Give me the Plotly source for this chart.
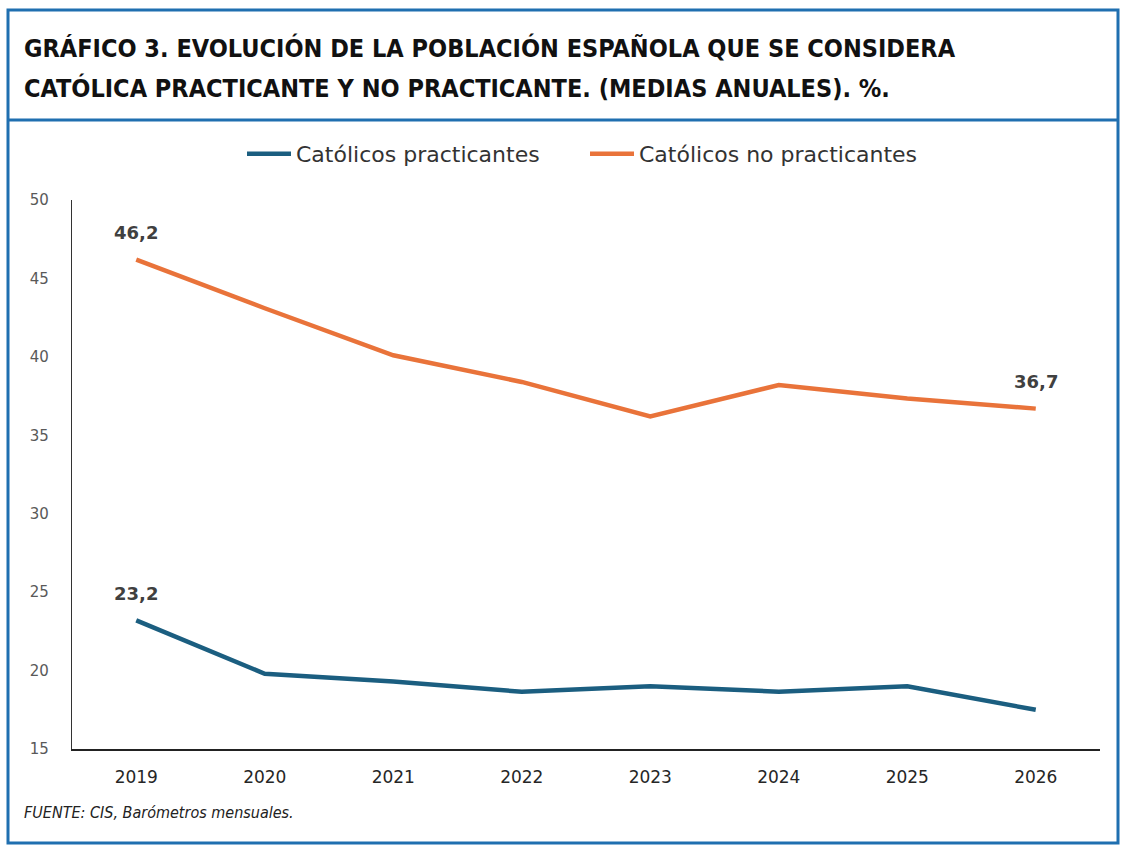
import plotly.graph_objects as go

years = ["2019", "2020", "2021", "2022", "2023", "2024", "2025", "2026"]
practicantes = [23.2, 19.8, 19.3, 18.65, 19.0, 18.65, 19.0, 17.5]
no_practicantes = [46.2, 43.1, 40.1, 38.4, 36.2, 38.2, 37.35, 36.7]
series_names = ["Católicos practicantes", "Católicos no practicantes"]
y_ticks = [15, 20, 25, 30, 35, 40, 45, 50]

title_lines = [
    "GRÁFICO 3. EVOLUCIÓN DE LA POBLACIÓN ESPAÑOLA QUE SE CONSIDERA",
    "CATÓLICA PRACTICANTE Y NO PRACTICANTE. (MEDIAS ANUALES). %.",
]
source_text = "FUENTE: CIS, Barómetros mensuales."

BLUE = "#1B5E80"
ORANGE = "#E9733A"
FRAME = "#1F6FB0"

W, H = 1134, 850
L, R, T, B = 72, 1100, 200, 749

def px(x):
    return (x - L) / (R - L)

def py(y):
    return (B - y) / (B - T)

fig = go.Figure()
fig.add_trace(go.Scatter(x=years, y=practicantes, mode="lines", name=series_names[0],
                         line=dict(color=BLUE, width=4.5)))
fig.add_trace(go.Scatter(x=years, y=no_practicantes, mode="lines", name=series_names[1],
                         line=dict(color=ORANGE, width=4.5)))

def fmt(v):
    return f"{v:.1f}".replace(".", ",")

# (category index, value) of labelled points
labels = [(0, no_practicantes[0]), (len(years) - 1, no_practicantes[-1]), (0, practicantes[0])]
annotations = []
for xi, yv in labels:
    annotations.append(dict(x=xi, y=yv, xref="x", yref="y", text=fmt(yv), showarrow=False,
                            yshift=27, font=dict(family="DejaVu Sans", size=18, color="#404040", weight="bold")))

title_font = dict(family="Liberation Sans Narrow, DejaVu Sans Condensed", size=25, color="#111111", weight="bold")
for i, line in enumerate(title_lines):
    annotations.append(dict(x=px(22), y=py([48, 88][i]), xref="paper", yref="paper", text=line,
                            showarrow=False, xanchor="left", yanchor="middle", font=title_font))
annotations.append(dict(x=px(22), y=py(812), xref="paper", yref="paper", text="<i>" + source_text + "</i>",
                        showarrow=False, xanchor="left", yanchor="middle",
                        font=dict(family="Liberation Sans Narrow, DejaVu Sans Condensed", size=16, color="#222222")))

shapes = [
    dict(type="rect", xref="paper", yref="paper", x0=px(8), x1=px(1118), y0=py(843), y1=py(10),
         line=dict(color=FRAME, width=3), fillcolor="rgba(0,0,0,0)", layer="above"),
    dict(type="line", xref="paper", yref="paper", x0=px(8), x1=px(1118), y0=py(120), y1=py(120),
         line=dict(color=FRAME, width=3)),
]

fig.update_layout(
    width=W, height=H,
    margin=dict(l=L, r=W - R, t=T, b=H - B, pad=0),
    paper_bgcolor="white", plot_bgcolor="white",
    showlegend=True,
    legend=dict(orientation="h", x=px(585), xanchor="center", y=py(154), yanchor="middle",
                font=dict(family="DejaVu Sans", size=22, color="#333333"),
                itemwidth=44, entrywidth=284, entrywidthmode="pixels", bgcolor="rgba(0,0,0,0)"),
    annotations=annotations,
    shapes=shapes,
    xaxis=dict(type="category", range=[-0.5, 7.5], showgrid=False, showline=True,
               linecolor="#222222", linewidth=2, ticks="", ticklabelstandoff=12,
               tickfont=dict(family="DejaVu Sans", size=17, color="#262626")),
    yaxis=dict(range=[15, 50], tickvals=y_ticks, showgrid=False, showline=True, linecolor="#333333",
               linewidth=1.2, ticks="", ticklabelstandoff=19, zeroline=False,
               tickfont=dict(family="DejaVu Sans", size=15, color="#595959")),
)

fig.write_html("out.html", config={"displayModeBar": False},
               post_script="document.body.style.margin='0';document.body.style.padding='0';")
